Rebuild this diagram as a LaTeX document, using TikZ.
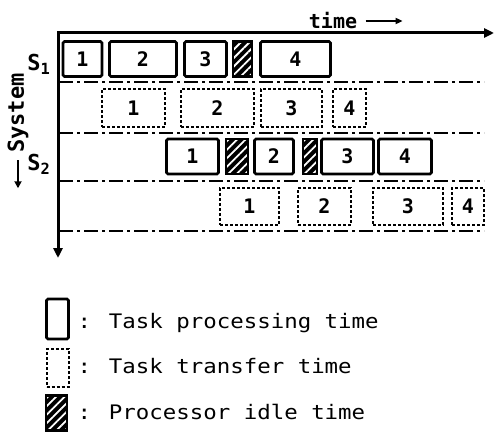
\documentclass[tikz,border=0pt]{standalone}
\usepackage{fontspec}
\setmainfont{DejaVu Sans Mono}
\newfontfamily\keyfont[FakeStretch=1.12]{DejaVu Sans Mono}
\usetikzlibrary{arrows.meta,patterns.meta}

\tikzset{GanttProc/.style={draw,line width=2.6pt,rounded corners=1.5pt,inner sep=0pt,
           font=\fontsize{20}{20}\selectfont\bfseries},
         GanttXfer/.style={draw,line width=2pt,dash pattern=on 3pt off 2pt,inner sep=0pt,
           font=\fontsize{20}{20}\selectfont\bfseries},
         GanttIdle/.style={draw,line width=2.4pt,inner sep=0pt,preaction={fill=black},
           pattern={Lines[angle=45,distance=6pt,line width=1.8pt]},pattern color=white},
         GanttSep/.style={line width=2pt,dash pattern=on 14pt off 4pt on 3pt off 4pt},
         GanttAxis/.style={line width=3pt,-{Triangle[length=10pt,width=9pt]}}}

\begin{document}
\begin{tikzpicture}[x=1pt,y=-1pt,line cap=butt,
  every node/.style={font=\fontsize{20}{20}\selectfont\bfseries}]
  \useasboundingbox (0,0) rectangle (495,436);
  % axes: time to the right, systems downwards
  \coordinate (origin) at (58,33);
  \coordinate (timeend) at (494,33);
  \coordinate (sysend) at (58,258);
  \draw[GanttAxis] (origin) -- (timeend);
  \draw[GanttAxis] ([yshift=1.5pt]origin) -- (sysend);
  \node (timelbl) at (333,21) {time};
  \coordinate (timetip) at ([xshift=42pt]timelbl.east);
  \draw[line width=2pt,-{Triangle[length=7pt,width=6pt]}] ([xshift=5pt]timelbl.east) -- (timetip);
  \node[font=\fontsize{22}{22}\selectfont\bfseries] (sone) at (39,64) {S\textsubscript{1}};
  \node[font=\fontsize{22}{22}\selectfont\bfseries] (stwo) at (39,164) {S\textsubscript{2}};
  \node[rotate=90,font=\fontsize{22}{22}\selectfont\bfseries] (syslbl) at (18,113) {System};
  \coordinate (systip) at ([yshift=-32pt]syslbl.west);
  \draw[line width=2pt,-{Triangle[length=7pt,width=7pt]}] ([yshift=-4pt]syslbl.west) -- (systip);
  % row separators
  \foreach \y [count=\i] in {82,133,181,231} {
    \coordinate (sepL\i) at (59,\y);
    \coordinate (sepR\i) at (484,\y);
    \draw[GanttSep] (sepL\i) -- (sepR\i);
  }
  % S1 processing and transfer
  \foreach \x/\w/\t [count=\i] in {82.5/39/1,143/67/2,205.5/42/3,295.5/70/4}
    \node[GanttProc,minimum width=\w,minimum height=35] (pa\i) at (\x,59) {\t};
  \node[GanttIdle,minimum width=19,minimum height=35] (ia1) at (242.5,59) {};
  \foreach \x/\w/\t [count=\i] in {133.5/63/1,217.5/73/2,291.5/61/3,349.5/33/4}
    \node[GanttXfer,minimum width=\w,minimum height=38] (ta\i) at (\x,108) {\t};
  % S2 processing and transfer
  \foreach \x/\w/\t [count=\i] in {192.5/52/1,274/39/2,347.5/52/3,405/53/4}
    \node[GanttProc,minimum width=\w,minimum height=35] (pb\i) at (\x,156.5) {\t};
  \node[GanttIdle,minimum width=22,minimum height=35] (ib1) at (237,156.5) {};
  \node[GanttIdle,minimum width=14,minimum height=35] (ib2) at (310,156.5) {};
  \foreach \x/\w/\t [count=\i] in {249.5/59/1,324.5/53/2,408/70/3,468/32/4}
    \node[GanttXfer,minimum width=\w,minimum height=37] (tb\i) at (\x,206.5) {\t};
  % key
  \node[GanttProc,minimum width=22,minimum height=40] (keyproc) at (57.5,319) {};
  \node[GanttXfer,minimum width=22,minimum height=38] (keyxfer) at (57.5,368) {};
  \node[GanttIdle,minimum width=21,minimum height=35] (keyidle) at (56.5,413) {};
  \node[anchor=base west,font=\keyfont\fontsize{20}{20}\selectfont] (keyproct) at (74,328) {: Task processing time};
  \node[anchor=base west,font=\keyfont\fontsize{20}{20}\selectfont] (keyxfert) at (74,373) {: Task transfer time};
  \node[anchor=base west,font=\keyfont\fontsize{20}{20}\selectfont] (keyidlet) at (74,419) {: Processor idle time};
\end{tikzpicture}
\end{document}
